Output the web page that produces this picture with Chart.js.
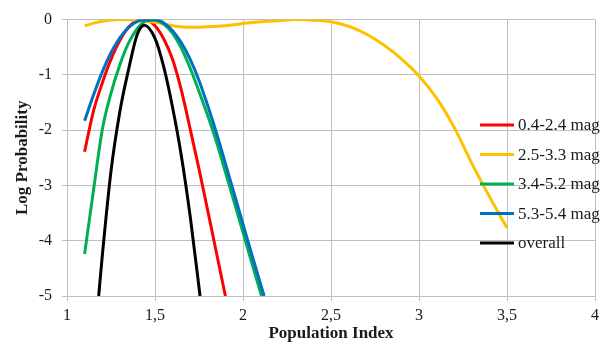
<!DOCTYPE html>
<html>
<head>
<meta charset="utf-8">
<script src="https://cdn.jsdelivr.net/npm/chart.js@4.4.1/dist/chart.umd.min.js"></script>
<style>
html, body { margin: 0; padding: 0; background: #fff; }
#wrap { width: 611px; height: 352px; }
</style>
</head>
<body>
<div id="wrap"><canvas id="chart" width="611" height="352"></canvas></div>
<script>
// series names + colours (legend order)
const seriesLabels = ["0.4-2.4 mag", "2.5-3.3 mag", "3.4-5.2 mag", "5.3-5.4 mag", "overall"];
const seriesColors = ["#ff0000", "#ffc000", "#00b050", "#0070c0", "#000000"];

const xTickLabels = ["1", "1,5", "2", "2,5", "3", "3,5", "4"];
const yTickLabels = ["-5", "-4", "-3", "-2", "-1", "0"];

// population index -> log probability
const redX = [1.1, 1.15, 1.2, 1.25, 1.3, 1.35, 1.4, 1.45, 1.5, 1.55, 1.6, 1.65, 1.7, 1.75, 1.8, 1.85, 1.9];
const redY = [-2.39, -1.66, -1.15, -0.72, -0.38, -0.14, -0.02, -0.01, -0.11, -0.35, -0.72, -1.28, -1.98, -2.7, -3.46, -4.23, -5.0];

const yellowX = [1.1, 1.2, 1.3, 1.4, 1.5, 1.6, 1.7, 1.8, 1.9, 2.0, 2.1, 2.2, 2.3, 2.4, 2.5, 2.6, 2.7, 2.8, 2.9, 3.0, 3.1, 3.2, 3.3, 3.4, 3.5];
const yellowY = [-0.11, -0.03, 0, -0.01, -0.05, -0.11, -0.14, -0.13, -0.11, -0.07, -0.04, -0.02, 0, -0.01, -0.04, -0.12, -0.26, -0.46, -0.71, -1.02, -1.42, -1.95, -2.6, -3.2, -3.77];

const greenX = [1.1, 1.15, 1.2, 1.25, 1.3, 1.35, 1.4, 1.45, 1.5, 1.55, 1.6, 1.65, 1.7, 1.75, 1.8, 1.85, 1.9, 1.95, 2.0, 2.05, 2.105];
const greenY = [-4.24, -3.1, -2.0, -1.33, -0.82, -0.42, -0.16, -0.02, -0.01, -0.08, -0.25, -0.52, -0.88, -1.3, -1.74, -2.22, -2.76, -3.3, -3.85, -4.4, -5.0];

const blueX = [1.1, 1.15, 1.2, 1.25, 1.3, 1.35, 1.4, 1.45, 1.5, 1.55, 1.6, 1.65, 1.7, 1.75, 1.8, 1.85, 1.9, 1.95, 2.0, 2.05, 2.12];
const blueY = [-1.83, -1.37, -0.95, -0.6, -0.33, -0.14, -0.03, 0, 0, -0.06, -0.2, -0.42, -0.72, -1.1, -1.56, -2.06, -2.6, -3.15, -3.7, -4.25, -5.0];

const blackX = [1.18, 1.2, 1.25, 1.3, 1.35, 1.4, 1.44, 1.5, 1.55, 1.6, 1.65, 1.7, 1.756];
const blackY = [-5.0, -4.29, -2.74, -1.67, -0.9, -0.26, -0.1, -0.34, -0.86, -1.59, -2.47, -3.56, -5.0];

const seriesX = [redX, yellowX, greenX, blueX, blackX];
const seriesY = [redY, yellowY, greenY, blueY, blackY];

const toPoints = (xs, ys) => xs.map((x, i) => ({ x: x, y: ys[i] }));

const serif = "'Liberation Serif', 'Times New Roman', serif";
const gridGrey = "#bfbfbf";
const textCol = "#1a1a1a";

// legend drawn over the plot, like the original
const sideLegend = {
    id: "sideLegend",
    afterDraw(chart) {
        const c = chart.ctx;
        c.save();
        c.font = "17px " + serif;
        c.textBaseline = "middle";
        c.textAlign = "left";
        seriesLabels.forEach((lbl, i) => {
            const y = 125 + i * 29.5;
            c.strokeStyle = seriesColors[i];
            c.lineWidth = 3;
            c.beginPath();
            c.moveTo(480, y);
            c.lineTo(514, y);
            c.stroke();
            c.fillStyle = textCol;
            c.fillText(lbl, 518, y + 1);
        });
        c.restore();
    }
};

const datasets = seriesLabels.map((lbl, i) => ({
    label: lbl,
    data: toPoints(seriesX[i], seriesY[i]),
    borderColor: seriesColors[i],
    backgroundColor: seriesColors[i],
    borderWidth: 3,
    pointRadius: 0,
    fill: false,
    cubicInterpolationMode: "monotone",
    order: seriesLabels.length - i
}));

new Chart(document.getElementById("chart"), {
    type: "line",
    data: { datasets: datasets },
    options: {
        responsive: false,
        animation: false,
        devicePixelRatio: 1,
        layout: { autoPadding: false, padding: { left: 0, top: 14.5, right: 16, bottom: 0 } },
        plugins: { legend: { display: false }, tooltip: { enabled: false } },
        scales: {
            x: {
                type: "linear",
                min: 1,
                max: 4,
                afterFit: (s) => { s.height = 56; },
                ticks: {
                    stepSize: 0.5,
                    autoSkip: false,
                    maxRotation: 0,
                    padding: 5,
                    color: textCol,
                    font: { family: serif, size: 16 },
                    callback: (v, i) => xTickLabels[i]
                },
                grid: { color: gridGrey, tickLength: 5 },
                border: { color: gridGrey },
                title: {
                    display: true,
                    text: "Population Index",
                    color: textCol,
                    font: { family: serif, size: 17, weight: "bold" },
                    padding: { top: 0, bottom: 8 }
                }
            },
            y: {
                min: -5,
                max: 0,
                afterFit: (s) => { s.width = 67; },
                ticks: {
                    stepSize: 1,
                    padding: 10,
                    color: textCol,
                    font: { family: serif, size: 16 },
                    callback: (v, i) => yTickLabels[i]
                },
                grid: { color: gridGrey, tickLength: 5 },
                border: { color: gridGrey },
                title: {
                    display: true,
                    text: "Log Probability",
                    color: textCol,
                    font: { family: serif, size: 17, weight: "bold" },
                    padding: { top: 12, bottom: 0 }
                }
            }
        }
    },
    plugins: [sideLegend]
});
</script>
</body>
</html>
